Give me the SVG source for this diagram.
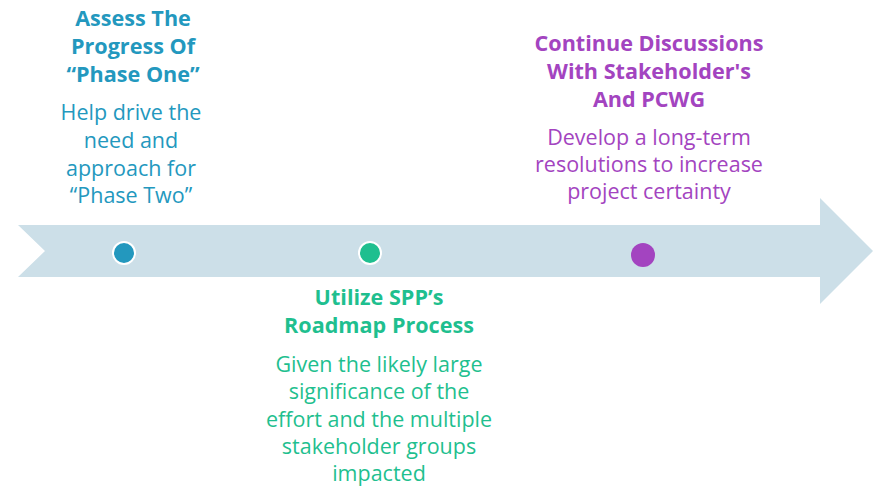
<svg xmlns="http://www.w3.org/2000/svg" width="873" height="488" viewBox="0 0 873 488">
<style>
text{font-family:"Open Sans","Noto Sans",sans-serif;text-anchor:middle}
.t{font-weight:bold;font-size:21.6px}
.b{font-size:21.5px}
.blue{fill:#2398BE}.green{fill:#1FBF8F}.purple{fill:#A344C0}
</style>
<rect width="873" height="488" fill="#fff"/>
<g id="arrow"><polygon points="18,225 820,225 820,198 873,251 820,304 820,277 18,277 45,251" fill="#CCDFE8"/></g>
<g id="node1">
<circle cx="124" cy="253" r="11" fill="#2398BE" stroke="#fff" stroke-width="2"/>
<text class="t blue" x="133" y="26">Assess The</text>
<text class="t blue" x="133" y="54">Progress Of</text>
<text class="t blue" x="133" y="82">“Phase One”</text>
<text class="b blue" x="131" y="120">Help drive the</text>
<text class="b blue" x="131" y="148">need and</text>
<text class="b blue" x="131" y="176">approach for</text>
<text class="b blue" x="131" y="203">“Phase Two”</text>
</g>
<g id="node2">
<circle cx="370" cy="253" r="11" fill="#1FBF8F" stroke="#fff" stroke-width="2"/>
<text class="t green" x="379" y="305">Utilize SPP’s</text>
<text class="t green" x="379" y="333">Roadmap Process</text>
<text class="b green" x="379" y="372">Given the likely large</text>
<text class="b green" x="379" y="399">significance of the</text>
<text class="b green" x="379" y="427">effort and the multiple</text>
<text class="b green" x="379" y="454">stakeholder groups</text>
<text class="b green" x="379" y="481">impacted</text>
</g>
<g id="node3">
<circle cx="643" cy="255" r="12" fill="#A344C0"/>
<text class="t purple" x="649" y="51">Continue Discussions</text>
<text class="t purple" x="649" y="79">With Stakeholder's</text>
<text class="t purple" x="649" y="107">And PCWG</text>
<text class="b purple" x="649" y="145">Develop a long-term</text>
<text class="b purple" x="649" y="172">resolutions to increase</text>
<text class="b purple" x="649" y="199">project certainty</text>
</g>
<g id="connectors"></g>
</svg>
